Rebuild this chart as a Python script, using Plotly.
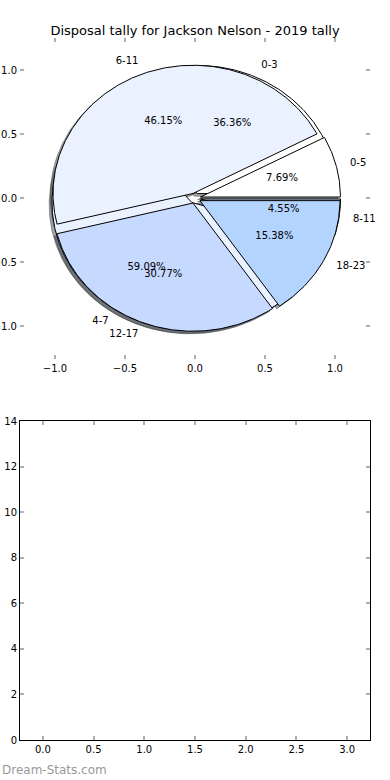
import numpy as np
import plotly.graph_objects as go

title = "Disposal tally for Jackson Nelson - 2019 tally"
labels_a = ["0-5", "6-11", "12-17", "18-23"]
values_a = [1, 6, 4, 2]
labels_b = ["0-3", "4-7", "8-11"]
values_b = [8, 13, 1]
colors = ["#FFFFFF", "#EAF1FF", "#C6D9FF", "#B3D4FF"]
pie_ticks = [-1.0, -0.5, 0.0, 0.5, 1.0]
bar_xticks = [0.0, 0.5, 1.0, 1.5, 2.0, 2.5, 3.0]
bar_yticks = [0, 2, 4, 6, 8, 10, 12, 14]

EXPLODE = 0.04
LABEL_DIST = 1.1
PCT_DIST = 0.6
SHADOW = -0.02
FONT = "DejaVu Sans"


def hex_rgb(h):
    h = h.lstrip("#")
    return tuple(int(h[i:i + 2], 16) for i in (0, 2, 4))


def wedges(values, labels):
    total = float(sum(values))
    out = []
    theta = 0.0
    for i, (v, lab) in enumerate(zip(values, labels)):
        frac = v / total
        t1, t2 = theta, theta + 360.0 * frac
        mid = np.deg2rad((t1 + t2) / 2)
        cx, cy = EXPLODE * np.cos(mid), EXPLODE * np.sin(mid)
        n = max(4, int(abs(t2 - t1) * 1.5))
        ang = np.deg2rad(np.linspace(t1, t2, n))
        xs = np.concatenate([[cx], cx + np.cos(ang), [cx]])
        ys = np.concatenate([[cy], cy + np.sin(ang), [cy]])
        out.append(dict(x=xs, y=ys, color=colors[i % len(colors)], label=lab,
                        lx=cx + LABEL_DIST * np.cos(mid), ly=cy + LABEL_DIST * np.sin(mid),
                        px=cx + PCT_DIST * np.cos(mid), py=cy + PCT_DIST * np.sin(mid),
                        pct="%.2f%%" % (100 * frac)))
        theta = t2
    return out


pie_b = wedges(values_b, labels_b)
pie_a = wedges(values_a, labels_a)

fig = go.Figure()

# shadows (drawn beneath all wedges)
for w in pie_b + pie_a:
    r, g, b = hex_rgb(w["color"])
    sc = "rgba(%d,%d,%d,0.5)" % (r * 0.3, g * 0.3, b * 0.3)
    fig.add_trace(go.Scatter(x=w["x"] + SHADOW, y=w["y"] + SHADOW, mode="lines",
                             fill="toself", fillcolor=sc, line=dict(color=sc, width=1),
                             hoverinfo="skip", showlegend=False, xaxis="x", yaxis="y"))

# wedges: second pie first, then first pie on top
for w in pie_b + pie_a:
    fig.add_trace(go.Scatter(x=w["x"], y=w["y"], mode="lines", fill="toself",
                             fillcolor=w["color"], line=dict(color="black", width=1),
                             hoverinfo="skip", showlegend=False, xaxis="x", yaxis="y"))

# labels and percentages
for w in pie_b + pie_a:
    pos = "middle right" if w["lx"] > 0 else "middle left"
    fig.add_trace(go.Scatter(x=[w["lx"]], y=[w["ly"]], mode="text", text=[w["label"]],
                             textposition=pos, cliponaxis=False,
                             textfont=dict(family=FONT, size=10, color="black"),
                             hoverinfo="skip", showlegend=False, xaxis="x", yaxis="y"))
    fig.add_trace(go.Scatter(x=[w["px"]], y=[w["py"]], mode="text", text=[w["pct"]],
                             textposition="middle center", cliponaxis=False,
                             textfont=dict(family=FONT, size=10, color="black"),
                             hoverinfo="skip", showlegend=False, xaxis="x", yaxis="y"))

# empty lower axes
fig.add_trace(go.Scatter(x=[], y=[], mode="markers", showlegend=False, xaxis="x2", yaxis="y2"))

tick_common = dict(ticks="inside", ticklen=4, tickwidth=1.5, tickcolor="#b0b0b0",
                   showgrid=False, zeroline=False, mirror="ticks", showline=True,
                   tickfont=dict(family=FONT, size=10, color="black"))

fig.update_layout(
    width=390, height=780,
    margin=dict(l=20, r=20, t=38, b=40, autoexpand=False),
    paper_bgcolor="white", plot_bgcolor="white",
    showlegend=False,
    title=dict(text=title, x=0.5, xanchor="center", y=1 - 30 / 780, yanchor="middle",
               yref="container", font=dict(family=FONT, size=13, color="black")),
    xaxis=dict(domain=[0, 1], anchor="y", range=[-1.25, 1.25], tickvals=pie_ticks,
               tickformat=".1f", linecolor="rgba(0,0,0,0)", **tick_common),
    yaxis=dict(domain=[(740 - 358.5) / 702, 1], anchor="x", range=[-1.25, 1.25],
               tickvals=pie_ticks, tickformat=".1f", linecolor="rgba(0,0,0,0)",
               **tick_common),
    xaxis2=dict(domain=[0, 1], anchor="y2", range=[-0.225, 3.225], tickvals=bar_xticks,
                tickformat=".1f", linecolor="black", linewidth=1, **tick_common),
    yaxis2=dict(domain=[0, (740 - 421.3) / 702], anchor="x2", range=[0, 14],
                tickvals=bar_yticks, linecolor="black", linewidth=1, **tick_common),
    annotations=[dict(text="Dream-Stats.com", xref="paper", yref="paper",
                      x=-20 / 350, y=(740 - 770) / 702, xanchor="left", yanchor="middle",
                      showarrow=False, font=dict(family=FONT, size=12, color="#999999"))],
)

fig.write_html("out.html", config={"displayModeBar": False},
               post_script="document.body.style.margin='0';")
